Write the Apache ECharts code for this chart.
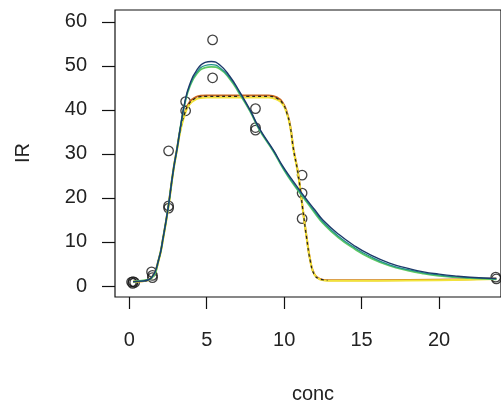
<!DOCTYPE html>
<html>
<head>
<meta charset="utf-8">
<script src="https://cdn.jsdelivr.net/npm/echarts@6/dist/echarts.min.js"></script>
<style>html,body{margin:0;padding:0;background:#fff;}#c{width:501px;height:405px;}</style>
</head>
<body>
<div id="c"></div>
<script>
// Observed data points (conc, IR)
const obsConc = [0.15, 0.25, 0.35, 0.22, 1.44, 1.5, 1.5, 2.54, 2.54, 2.54, 3.64, 3.64, 5.38, 5.38, 8.15, 8.15, 8.15, 11.16, 11.16, 11.16, 23.66, 23.7];
const obsIR   = [0.9, 1.0, 0.8, 0.6, 3.2, 2.4, 1.9, 30.7, 18.2, 17.7, 41.9, 39.8, 55.9, 47.3, 40.3, 36.0, 35.4, 25.2, 21.1, 15.3, 2.0, 1.6];

// Bell-shaped fitted curves
const bellConc  = [0.25, 0.8, 1.44, 1.9, 2.2, 2.5, 2.85, 3.1, 3.3, 3.6, 3.9, 4.35, 4.9, 5.3, 5.85, 6.5, 7.1, 7.8, 8.4, 9.3, 9.9, 10.5, 11.2, 12, 12.5, 13.5, 14.6, 15.5, 16.8, 18, 19, 20, 21, 22, 23.7];
const navyIR    = [1.0, 1.1, 1.9, 6, 11.2, 17.5, 26.4, 31.5, 36, 42, 45.8, 49, 50.8, 51.0, 50.2, 47.6, 44.3, 40, 35.8, 30.9, 27.3, 24.2, 20.8, 17.2, 15, 11.8, 9, 7.2, 5.2, 4.0, 3.2, 2.7, 2.3, 2.0, 1.7];
const tealIR    = [1.0, 1.1, 1.9, 6, 11.2, 17.5, 26.4, 31.5, 36, 41.8, 45.4, 48.5, 50.1, 50.3, 49.6, 47.2, 44.0, 39.8, 35.6, 30.7, 27.0, 23.8, 20.5, 16.8, 14.6, 11.3, 8.6, 6.8, 4.8, 3.7, 3.0, 2.5, 2.1, 1.9, 1.6];
const greenIR   = [1.0, 1.2, 1.8, 6, 11.2, 17.5, 26.4, 31.5, 36, 41.6, 45.2, 48.2, 49.6, 49.8, 49.3, 47.0, 43.8, 39.7, 35.5, 30.6, 26.9, 23.6, 20.3, 16.5, 14.3, 11.0, 8.3, 6.5, 4.6, 3.5, 2.8, 2.3, 2.0, 1.8, 1.5];

// Plateau-shaped fitted curves
const platConc  = [0.25, 0.8, 1.44, 1.9, 2.2, 2.5, 2.85, 3.1, 3.3, 3.6, 3.9, 4.3, 4.6, 5, 7, 9, 9.5, 9.9, 10.2, 10.4, 10.6, 10.9, 11.2, 11.45, 11.7, 11.95, 12.3, 12.8, 16, 20, 23.7];
const orangeIR  = [1.0, 1.1, 1.9, 6, 11.2, 17.5, 26.4, 31.5, 35.5, 39.5, 41.8, 42.9, 43.2, 43.3, 43.3, 43.3, 42.9, 41.7, 39.2, 36.2, 31.2, 25.6, 17.6, 11.1, 5.6, 2.7, 1.6, 1.3, 1.3, 1.4, 1.7];
const yellowIR  = [1.0, 1.1, 1.8, 5.8, 11.0, 17.3, 26.2, 31.3, 35.2, 39.1, 41.3, 42.4, 42.7, 42.8, 42.8, 42.8, 42.4, 41.3, 38.9, 36.0, 31.0, 25.4, 17.5, 11.0, 5.5, 2.6, 1.5, 1.2, 1.2, 1.3, 1.6];
const dashConc  = [0.25, 0.8, 1.44, 1.9, 2.2, 2.5, 2.85, 3.1, 3.3, 3.6, 3.9, 4.3, 4.6, 5, 7, 9, 9.5, 9.9, 10.2, 10.4, 10.6, 10.9, 11.2, 11.45, 11.7, 11.95, 12.3, 12.8];
const dashIR    = [1.0, 1.1, 1.9, 6, 11.2, 17.5, 26.4, 31.5, 35.5, 39.4, 41.6, 42.7, 43.0, 43.1, 43.1, 43.1, 42.7, 41.5, 39.0, 36.1, 31.1, 25.5, 17.5, 11.0, 5.5, 2.6, 1.6, 1.3];

const xTicks = [0, 5, 10, 15, 20];
const yTicks = [0, 10, 20, 30, 40, 50, 60];

const zip = (xs, ys) => xs.map((x, i) => [x, ys[i]]);
const FONT = '"Liberation Sans", Arial, sans-serif';

const chart = echarts.init(document.getElementById('c'), null, {renderer: 'canvas'});

function curve(name, xs, ys, color, width, type, z) {
  return {
    name, type: 'line', data: zip(xs, ys), showSymbol: false, symbol: 'none',
    smooth: 0.5, z: z,
    lineStyle: {color, width, type: type || 'solid'},
    silent: true, animation: false
  };
}

chart.setOption({
  backgroundColor: '#fff',
  animation: false,
  grid: {left: 115, top: 10, right: 0, bottom: 108, show: true, borderColor: '#111', borderWidth: 1.2, backgroundColor: 'transparent'},
  xAxis: {
    type: 'value', min: -0.92, max: 24, offset: 12,
    axisLine: {show: false, onZero: false},
    splitLine: {show: false},
    axisTick: {show: true, inside: true, length: 12, lineStyle: {color: '#111', width: 1.2}, customValues: xTicks},
    axisLabel: {show: true, margin: 21, fontSize: 20, color: '#222', fontFamily: FONT, customValues: xTicks}
  },
  yAxis: {
    type: 'value', min: -2.5, max: 62.7, offset: 13,
    axisLine: {show: false, onZero: false},
    splitLine: {show: false},
    axisTick: {show: true, inside: true, length: 13, lineStyle: {color: '#111', width: 1.2}, customValues: yTicks},
    axisLabel: {show: true, margin: 15, fontSize: 20, color: '#222', fontFamily: FONT, customValues: yTicks}
  },
  graphic: [
    {type: 'text', x: 313, y: 394.5, style: {text: 'conc', fontSize: 20, fontFamily: FONT, fill: '#222', align: 'center', verticalAlign: 'middle'}},
    {type: 'text', x: 23, y: 153, rotation: Math.PI / 2, style: {text: 'IR', fontSize: 20, fontFamily: FONT, fill: '#222', align: 'center', verticalAlign: 'middle'}}
  ],
  series: [
    {
      name: 'obs', type: 'scatter', data: zip(obsConc, obsIR), symbol: 'circle', symbolSize: 9.5, z: 1,
      itemStyle: {color: 'rgba(255,255,255,0)', borderColor: '#111', borderWidth: 1.3}, silent: true
    },
    curve('orange', platConc, orangeIR, '#c8661e', 2, 'solid', 2),
    curve('yellow', platConc, yellowIR, '#f2e33a', 2, 'solid', 3),
    curve('dashed', dashConc, dashIR, '#222', 1.2, [3, 3], 4),
    curve('green', bellConc, greenIR, '#5dc863', 1.8, 'solid', 5),
    curve('teal', bellConc, tealIR, '#21908c', 1.2, 'solid', 6),
    curve('navy', bellConc, navyIR, '#1d3a6b', 1.4, 'solid', 7)
  ]
});
</script>
</body>
</html>
